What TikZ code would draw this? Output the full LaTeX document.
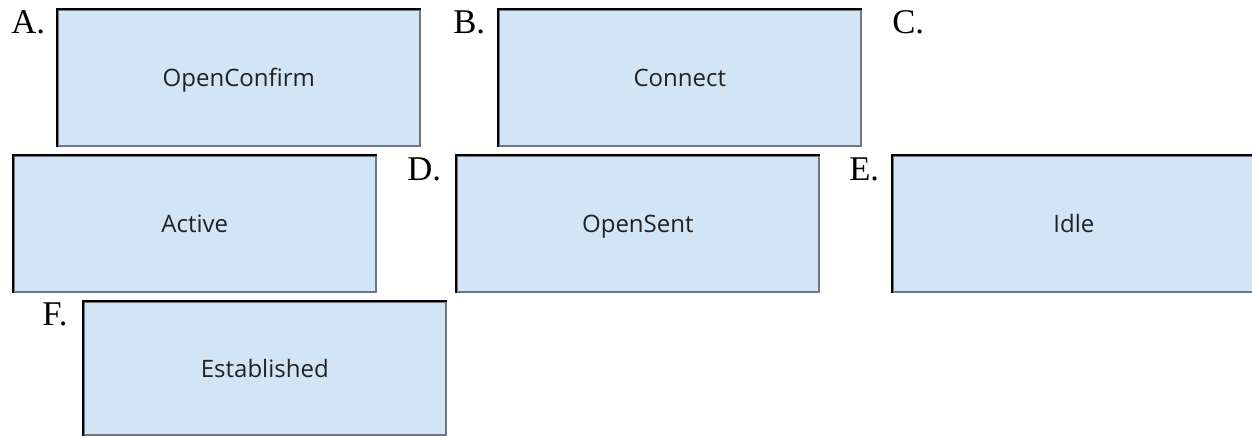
\documentclass[tikz,border=0pt]{standalone}
\usepackage{fontspec}
\setmainfont{Liberation Serif}
\newfontfamily\boxfont{Open Sans}
\definecolor{boxblue}{HTML}{D2E5F6}
\definecolor{boxedge}{HTML}{6E7780}
\definecolor{boxtext}{HTML}{222222}
\begin{document}
\begin{tikzpicture}[x=0.75pt,y=-0.75pt,
  statebox/.style={rectangle, fill=boxblue, draw=boxedge, line width=1.2pt,
    minimum width=271.5pt, minimum height=102pt, inner sep=0pt, anchor=north west,
    text height=13.4pt, text depth=0pt,
    font=\boxfont\fontsize{18}{21}\selectfont, text=boxtext},
  topleft/.style={draw=black, line width=1.2pt},
  letter/.style={anchor=base west, inner sep=0pt, font=\fontsize{26}{30}\selectfont}]
\clip (0,0) rectangle (1252,436);
\fill[white] (0,0) rectangle (1252,436);

% answer options
\node[statebox] (a) at (57,9)   {OpenConfirm};
\node[statebox] (b) at (498,9)  {Connect};
\node[statebox] (act) at (13,155) {Active};
\node[statebox] (d) at (456,155) {OpenSent};
\node[statebox] (e) at (892,155) {Idle};
\node[statebox, minimum height=99.75pt] (f) at (83,301)  {Established};

% darker top and left edges
\foreach \n in {a,b,act,d,e,f}
  \draw[topleft] (\n.south west) -- (\n.north west) -- (\n.north east);

% option letters
\node[letter] (la) at (11,33)  {A.};
\node[letter] (lb) at (453,33) {B.};
\node[letter] (lc) at (892,33) {C.};
\node[letter] (ld) at (407,180) {D.};
\node[letter] (le) at (849,180) {E.};
\node[letter] (lf) at (42,325)  {F.};
\end{tikzpicture}
\end{document}
